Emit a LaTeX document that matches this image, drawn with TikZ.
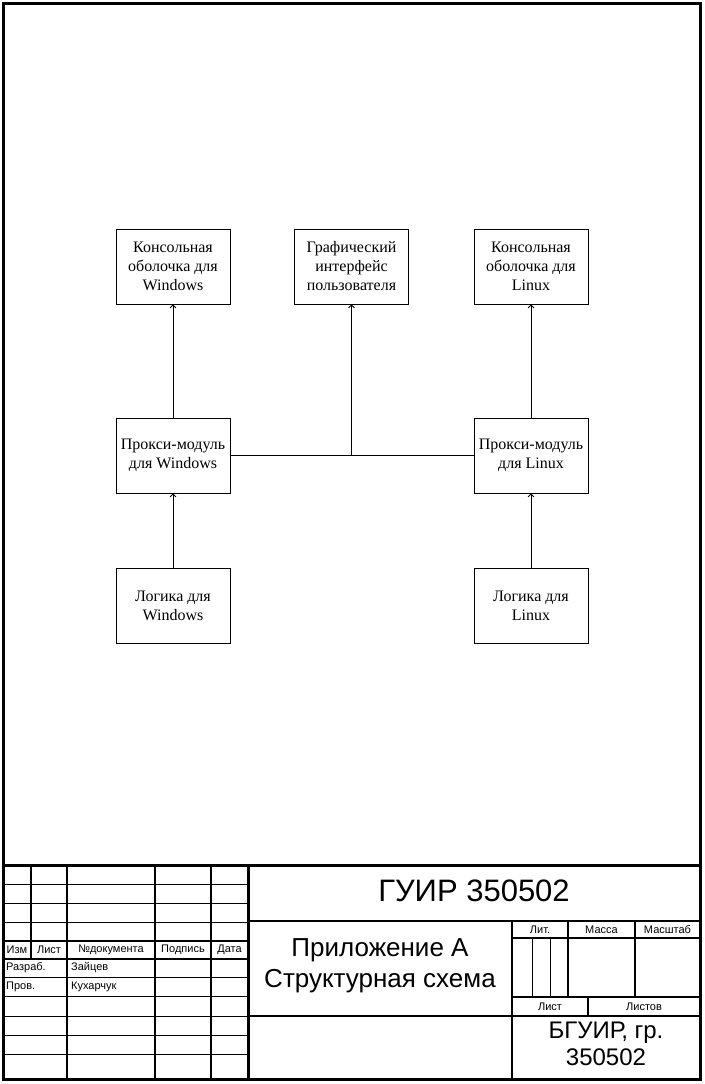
\documentclass[tikz,border=0pt]{standalone}
\usepackage{fontspec}
\setmainfont{Liberation Serif}
\newfontfamily\stampfont{Liberation Sans}
\usetikzlibrary{arrows.meta}

\begin{document}
\begin{tikzpicture}[x=1pt,y=-1pt,
	block/.style={draw,line width=0.8pt,minimum width=114pt,minimum height=75pt,align=center,inner sep=1pt,font=\fontsize{16}{19}\selectfont},
	link/.style={line width=0.8pt,-{Straight Barb[length=3pt,width=6pt]}},
	frameline/.style={line width=3pt},
	heavy/.style={line width=2.5pt},
	fine/.style={line width=0.8pt},
	smalltext/.style={inner sep=1pt,font=\stampfont\fontsize{11}{12}\selectfont},
	bigtext/.style 2 args={inner sep=0pt,align=center,font=\stampfont\fontsize{#1}{#2}\selectfont}]
\useasboundingbox (0,0) rectangle (704,1084);
\node[block] (shellwin) at (173,266.5) {Консольная\\оболочка для\\Windows};
\node[block] (gui) at (351.5,266.5) {Графический\\интерфейс\\пользователя};
\node[block] (shelllin) at (531,266.5) {Консольная\\оболочка для\\Linux};
\node[block] (proxywin) at (173,455.5) {Прокси-модуль\\для Windows};
\node[block] (proxylin) at (531,455.5) {Прокси-модуль\\для Linux};
\node[block] (logicwin) at (173,605.5) {Логика для\\Windows};
\node[block] (logiclin) at (531,605.5) {Логика для\\Linux};
\coordinate (hub) at (gui.south |- proxywin.east);
\draw[link] (logicwin) -- (proxywin);
\draw[link] (proxywin) -- (shellwin);
\draw[link] (logiclin) -- (proxylin);
\draw[link] (proxylin) -- (shelllin);
\draw[fine] (proxywin) -- (proxylin);
\draw[link] (hub) -- (gui);
\draw[frameline] (3,3) rectangle (700,1079);
\draw[frameline] (3,865) -- (700,865);
\foreach \y in {884,903,922,977,996,1016,1035,1054}
	\draw[fine] (3,\y) -- (248,\y);
\foreach \y in {941,959}
	\draw[line width=2pt] (3,\y) -- (248,\y);
\draw[heavy] (31,865) -- (31,959);
\foreach \x in {67,155,211}
	\draw[heavy] (\x,865) -- (\x,1079);
\draw[frameline] (248,865) -- (248,1079);
\draw[heavy] (248,921) -- (700,921);
\draw[heavy] (248,1016) -- (700,1016);
\draw[heavy] (512,921) -- (512,1079);
\draw[heavy] (512,938) -- (700,938);
\draw[heavy] (512,997) -- (700,997);
\foreach \x in {568,635}
	\draw[heavy] (\x,921) -- (\x,997);
\foreach \x in {532,550}
	\draw[fine] (\x,938) -- (\x,997);
\draw[heavy] (588,997) -- (588,1016);
\node[smalltext] (izm) at (17,950) {Изм};
\node[smalltext] (list) at (49,950) {Лист};
\node[smalltext] (doc) at (111,950) {№документа};
\node[smalltext] (sign) at (183,950) {Подпись};
\node[smalltext] (date) at (229.5,950) {Дата};
\node[smalltext,anchor=west] (dev) at (5,968) {Разраб.};
\node[smalltext,anchor=west] (devname) at (70,968) {Зайцев};
\node[smalltext,anchor=west] (chk) at (5,987) {Пров.};
\node[smalltext,anchor=west] (chkname) at (70,987) {Кухарчук};
\node[smalltext] (lit) at (540,930) {Лит.};
\node[smalltext] (mass) at (601.5,930) {Масса};
\node[smalltext] (scale) at (667.5,930) {Масштаб};
\node[smalltext] (sheet) at (550,1006.5) {Лист};
\node[smalltext] (sheets) at (644,1006.5) {Листов};
\node[bigtext={31}{36}] (code) at (474,891) {ГУИР 350502};
\node[bigtext={26}{31}] (title) at (380,966) {Приложение А\\Структурная схема};
\node[bigtext={24}{27}] (org) at (606,1044) {БГУИР, гр.\\350502};
\end{tikzpicture}
\end{document}
